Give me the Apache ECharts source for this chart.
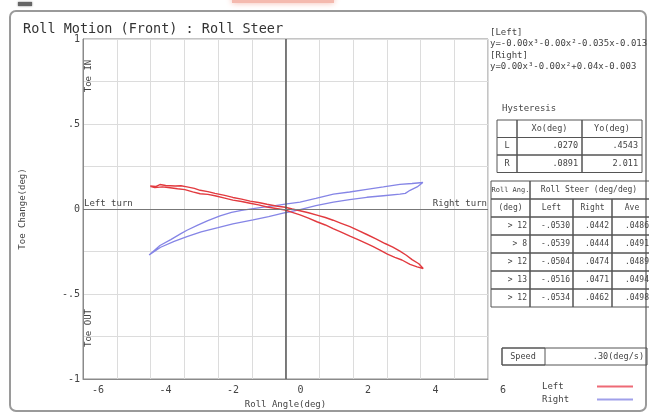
<!DOCTYPE html>
<html>
<head>
<meta charset="utf-8">
<script src="https://cdn.jsdelivr.net/npm/echarts@6/dist/echarts.min.js"></script>
<style>
  html, body { margin: 0; padding: 0; background: #fff; }
  #chart { width: 649px; height: 414px; }
</style>
</head>
<body>
<div id="chart"></div>
<script>
// Left turn loop: outgoing branch then return branch (roll angle deg, toe change deg)
const leftX = [-4.01,-3.85,-3.72,-3.55,-3.27,-3.10,-2.92,-2.70,-2.53,-2.30,-2.09,-1.80,-1.56,-1.30,-1.05,-0.80,-0.55,-0.28,-0.01,0.20,0.43,0.68,0.93,1.18,1.41,1.65,1.91,2.15,2.41,2.68,2.95,3.18,3.39,3.58,3.75,3.95,4.08,
               4.08,3.90,3.69,3.45,3.24,3.02,2.80,2.60,2.41,2.15,1.91,1.65,1.41,1.18,0.93,0.68,0.43,0.20,-0.01,-0.28,-0.55,-0.80,-1.05,-1.30,-1.56,-1.80,-2.09,-2.30,-2.53,-2.75,-2.98,-3.20,-3.42,-3.65,-3.87,-4.01];
const leftY = [0.136,0.132,0.144,0.138,0.135,0.137,0.130,0.121,0.110,0.102,0.092,0.080,0.068,0.058,0.046,0.038,0.028,0.018,0.010,0.000,-0.010,-0.022,-0.036,-0.050,-0.066,-0.084,-0.104,-0.126,-0.150,-0.176,-0.203,-0.224,-0.248,-0.272,-0.298,-0.322,-0.350,
               -0.356,-0.340,-0.326,-0.300,-0.284,-0.266,-0.242,-0.222,-0.204,-0.180,-0.160,-0.136,-0.116,-0.094,-0.075,-0.054,-0.035,-0.020,-0.006,0.003,0.012,0.024,0.034,0.044,0.052,0.064,0.078,0.086,0.090,0.101,0.114,0.119,0.125,0.130,0.126,0.134];

// Right turn loop
const rightX = [-4.04,-3.72,-3.40,-3.10,-2.92,-2.60,-2.30,-1.94,-1.60,-1.30,-0.96,-0.60,-0.30,-0.01,0.43,0.90,1.42,1.90,2.41,2.90,3.39,3.75,4.07,
                4.07,3.90,3.69,3.55,3.39,2.90,2.41,1.90,1.42,0.90,0.43,-0.01,-0.50,-0.96,-1.56,-2.00,-2.50,-2.92,-3.30,-3.70,-4.04];
const rightY = [-0.270,-0.215,-0.180,-0.145,-0.125,-0.095,-0.068,-0.040,-0.020,-0.008,0.002,0.012,0.020,0.029,0.040,0.062,0.087,0.100,0.116,0.130,0.145,0.150,0.156,
                0.150,0.130,0.110,0.092,0.087,0.078,0.069,0.055,0.040,0.020,-0.004,-0.022,-0.045,-0.064,-0.087,-0.110,-0.135,-0.162,-0.190,-0.225,-0.270];

const xTickLabels = ['-6', '-4', '-2', '0', '2', '4', '6'];
const yTickLabels = ['-1', '-.5', '0', '.5', '1'];

const fitLeft = 'y=-0.00x³-0.00x²-0.035x-0.013';
const fitRight = 'y=0.00x³-0.00x²+0.04x-0.003';

const hystHeader = ['', 'Xo(deg)', 'Yo(deg)'];
const hystRows = [['L', '.0270', '.4543'], ['R', '.0891', '2.011']];

const steerAngles = ['> 12', '> 8', '> 12', '> 13', '> 12'];
const steerLeft = ['-.0530', '-.0539', '-.0504', '-.0516', '-.0534'];
const steerRight = ['.0442', '.0444', '.0474', '.0471', '.0462'];
const steerAve = ['.0486', '.0491', '.0489', '.0494', '.0498'];

const speedValue = '.30(deg/s)';

const MONO = '"DejaVu Sans Mono", "Liberation Mono", monospace';
const INK = '#444';

function pairs(xs, ys) { return xs.map((x, i) => [x, ys[i]]); }

function txt(x, y, text, opt) {
  opt = opt || {};
  return {
    type: 'text', x: x, y: y, rotation: opt.rotation || 0, silent: true,
    style: {
      text: text, font: (opt.size || 8.5) + 'px ' + MONO, fill: opt.color || INK,
      align: opt.align || 'left', verticalAlign: opt.valign || 'middle'
    }
  };
}
function box(x, y, w, h) {
  return { type: 'rect', silent: true, shape: { x: x, y: y, width: w, height: h },
           style: { fill: 'none', stroke: '#555', lineWidth: 1 } };
}

const g = [];
// outer frame
g.push({ type: 'rect', silent: true, shape: { x: 10, y: 11, width: 636, height: 400, r: 6 },
         style: { fill: 'none', stroke: '#9a9a9a', lineWidth: 2 } });
// top edge remnants
g.push({ type: 'rect', silent: true, shape: { x: 232, y: -6, width: 102, height: 9 },
         style: { fill: '#f4b9ae', shadowBlur: 6, shadowColor: '#f4b9ae' } });
g.push({ type: 'rect', silent: true, shape: { x: 18, y: 2, width: 14, height: 4 },
         style: { fill: '#666', shadowBlur: 2, shadowColor: '#666' } });

// toe direction notes
g.push(txt(89, 76, 'Toe IN', { rotation: Math.PI / 2, align: 'center', size: 9 }));
g.push(txt(89, 328, 'Toe OUT', { rotation: Math.PI / 2, align: 'center', size: 9 }));

// fit equations
g.push(txt(490, 33, '[Left]', { size: 9 }));
g.push(txt(490, 44, fitLeft, { size: 9 }));
g.push(txt(490, 56, '[Right]', { size: 9 }));
g.push(txt(490, 67, fitRight, { size: 9 }));

// hysteresis table
g.push(txt(502, 109, 'Hysteresis', { size: 9 }));
const hCols = [497, 517, 582, 642];
const hRows = [120, 137.5, 155, 172.5];
const hTable = [hystHeader].concat(hystRows);
hTable.forEach((row, r) => {
  row.forEach((cell, c) => {
    const x0 = hCols[c], x1 = hCols[c + 1];
    const y0 = hRows[r], y1 = hRows[r + 1];
    g.push(box(x0, y0, x1 - x0, y1 - y0));
    if (r === 0 || c === 0) g.push(txt((x0 + x1) / 2, (y0 + y1) / 2, cell, { align: 'center' }));
    else g.push(txt(x1 - 4, (y0 + y1) / 2, cell, { align: 'right' }));
  });
});

// roll steer table
const sCols = [491, 530, 573, 612, 652];
const sRows = [181, 199, 217, 235, 253, 271, 289, 307];
g.push(box(sCols[0], sRows[0], sCols[1] - sCols[0], sRows[1] - sRows[0]));
g.push(txt((sCols[0] + sCols[1]) / 2, (sRows[0] + sRows[1]) / 2, 'Roll Ang.', { align: 'center', size: 7 }));
g.push(box(sCols[1], sRows[0], sCols[4] - sCols[1], sRows[1] - sRows[0]));
g.push(txt(589, (sRows[0] + sRows[1]) / 2, 'Roll Steer (deg/deg)', { align: 'center', size: 8 }));
const sHeader = ['(deg)', 'Left', 'Right', 'Ave'];
const sBody = steerAngles.map((a, i) => [a, steerLeft[i], steerRight[i], steerAve[i]]);
[sHeader].concat(sBody).forEach((row, r) => {
  const y0 = sRows[r + 1], y1 = sRows[r + 2];
  row.forEach((cell, c) => {
    const x0 = sCols[c], x1 = sCols[c + 1];
    g.push(box(x0, y0, x1 - x0, y1 - y0));
    if (r === 0) g.push(txt((x0 + x1) / 2, (y0 + y1) / 2, cell, { align: 'center', size: 8 }));
    else g.push(txt(x1 - 3, (y0 + y1) / 2, cell, { align: 'right', size: 8 }));
  });
});

// speed box
g.push(box(502, 348, 145, 17));
g.push(box(502, 348, 43, 17));
g.push(txt(523, 356.5, 'Speed', { align: 'center', size: 8.5 }));
g.push(txt(644, 356.5, speedValue, { align: 'right', size: 8.5 }));

const chart = echarts.init(document.getElementById('chart'), null, { renderer: 'canvas' });

chart.setOption({
  animation: false,
  backgroundColor: '#fff',
  title: {
    text: 'Roll Motion (Front) : Roll Steer',
    left: 18, top: 17,
    textStyle: { fontFamily: MONO, fontSize: 13.5, fontWeight: 'normal', color: '#333' }
  },
  legend: {
    orient: 'vertical', left: 537, top: 377, align: 'right',
    itemWidth: 36, itemHeight: 2, itemGap: 4, icon: 'rect',
    formatter: '{n|{name}}',
    textStyle: {
      fontFamily: MONO, fontSize: 9, color: INK,
      rich: { n: { width: 50, align: 'left', fontFamily: MONO, fontSize: 9, color: INK } }
    },
    data: ['Left', 'Right']
  },
  grid: { left: 83, right: 161, top: 39, bottom: 28, show: true, borderColor: '#8a8a8a', borderWidth: 1 },
  xAxis: {
    type: 'value', min: -6, max: 6, interval: 1,
    name: 'Roll Angle(deg)', nameLocation: 'middle', nameGap: 21,
    nameTextStyle: { fontFamily: MONO, fontSize: 9, color: INK },
    axisLine: { onZero: false, lineStyle: { color: '#8a8a8a' } },
    axisTick: { show: false },
    axisLabel: {
      fontFamily: MONO, fontSize: 10, color: INK, margin: 6, padding: [0, 0, 0, 30],
      formatter: v => (v % 2 === 0 ? xTickLabels[(v + 6) / 2] : '')
    },
    splitLine: { lineStyle: { color: '#dcdcdc', width: 1 } }
  },
  yAxis: {
    type: 'value', min: -1, max: 1, interval: 0.25,
    name: 'Toe Change(deg)', nameLocation: 'middle', nameGap: 56, nameRotate: 90,
    nameTextStyle: { fontFamily: MONO, fontSize: 9, color: INK },
    axisLine: { onZero: false, show: true, lineStyle: { color: '#8a8a8a' } },
    axisTick: { show: false },
    axisLabel: {
      fontFamily: MONO, fontSize: 10, color: INK, margin: 3, padding: [0, 0, 4, 0],
      formatter: v => {
        const k = Math.round(v * 4);
        return k % 2 === 0 ? yTickLabels[(k + 4) / 2] : '';
      }
    },
    splitLine: { lineStyle: { color: '#dcdcdc', width: 1 } }
  },
  graphic: { elements: g },
  series: [
    {
      name: 'Left', type: 'line', data: pairs(leftX, leftY),
      showSymbol: false, smooth: false, z: 3,
      lineStyle: { color: '#e23a3f', width: 1.4 },
      itemStyle: { color: '#ee6a76' },
      markLine: {
        silent: true, symbol: 'none', animation: false,
        data: [
          { xAxis: 0, lineStyle: { color: '#555', width: 1.5, type: 'solid' }, label: { show: false } },
          { yAxis: 0, lineStyle: { color: '#777', width: 1.2, type: 'solid' },
            label: { show: true, position: 'insideStartTop', formatter: 'Left turn', distance: [1, 1],
                     fontFamily: MONO, fontSize: 9, color: INK } },
          { yAxis: 0, lineStyle: { color: '#777', width: 1.2, type: 'solid' },
            label: { show: true, position: 'insideEndTop', formatter: 'Right turn', distance: [1, 1],
                     fontFamily: MONO, fontSize: 9, color: INK } }
        ]
      }
    },
    {
      name: 'Right', type: 'line', data: pairs(rightX, rightY),
      showSymbol: false, smooth: false, z: 2,
      lineStyle: { color: '#8585e6', width: 1.3 },
      itemStyle: { color: '#a0a0ea' }
    }
  ]
});
</script>
</body>
</html>
